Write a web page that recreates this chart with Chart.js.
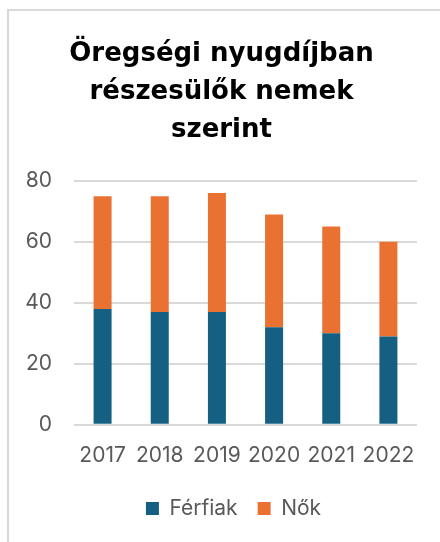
<!DOCTYPE html>
<html>
<head>
<meta charset="utf-8">
<script src="https://cdn.jsdelivr.net/npm/chart.js@4"></script>
<style>
  html, body { margin: 0; padding: 0; background: #fff; }
  #frame {
    position: absolute; left: 7px; top: 9px; width: 433px; height: 533px;
    border-top: 2px solid #d9d9d9; border-left: 2px solid #d9d9d9;
  }
  #wrap { position: absolute; left: 0; top: 0; width: 440px; height: 542px; }
</style>
</head>
<body>
<div id="frame"></div>
<div id="wrap"><canvas id="myChart"></canvas></div>
<script>
let years = ['2017', '2018', '2019', '2020', '2021', '2022'];
let ferfiak = [38, 37, 37, 32, 30, 29];
let nok = [37, 38, 39, 37, 35, 31];
let titleLines = ['Öregségi nyugdíjban', 'részesülők nemek', 'szerint'];

let ctx = document.getElementById('myChart').getContext('2d');

// the legend sits a bit right of centre in the original
let shiftLegend = {
  id: 'shiftLegend',
  afterLayout(chart) {
    chart.legend.left += 12;
    chart.legend.right += 12;
  }
};

let myChart = new Chart(ctx, {
  type: 'bar',
  data: {
    labels: years,
    datasets: [{
      label: 'Férfiak',
      data: ferfiak,
      backgroundColor: '#156082'
    }, {
      label: 'Nők',
      data: nok,
      backgroundColor: '#E97132'
    }]
  },
  options: {
    responsive: true,
    maintainAspectRatio: false,
    animation: false,
    categoryPercentage: 1,
    barPercentage: 0.315,
    layout: {
      padding: { top: 35, right: 23, left: 26, bottom: 13 }
    },
    plugins: {
      title: {
        display: true,
        text: titleLines,
        color: '#000',
        font: { family: 'DejaVu Sans', weight: 'bold', size: 26, lineHeight: 1.46 },
        padding: { top: 0, bottom: 32 }
      },
      legend: {
        position: 'bottom',
        labels: {
          color: '#595959',
          font: { family: 'Inter', size: 21 },
          boxWidth: 13,
          boxHeight: 13,
          padding: 20
        }
      },
      tooltip: { enabled: false }
    },
    scales: {
      x: {
        stacked: true,
        grid: { display: false },
        border: { display: false },
        ticks: { color: '#595959', font: { family: 'Inter', size: 21 }, padding: 10, maxRotation: 0 }
      },
      y: {
        stacked: true,
        min: 0,
        max: 80,
        afterFit: (axis) => { axis.width = 48; },
        grid: { color: '#d9d9d9', lineWidth: 2, drawTicks: false },
        border: { display: false },
        ticks: { stepSize: 20, color: '#595959', font: { family: 'Inter', size: 21 }, padding: 22 }
      }
    }
  },
  plugins: [shiftLegend]
});
</script>
</body>
</html>
